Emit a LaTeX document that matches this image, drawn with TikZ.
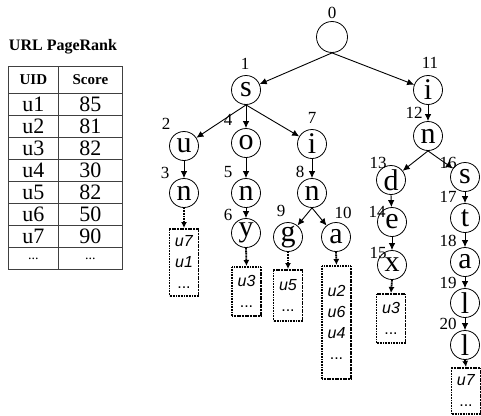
\documentclass[tikz,border=0pt]{standalone}
\usepackage{fontspec}
\setmainfont{Liberation Serif}
\newfontfamily\listfont{Liberation Sans}
\usetikzlibrary{arrows.meta}
\newcommand\tabledots{{\fontsize{14}{14}\selectfont...}}
\begin{document}
\begin{tikzpicture}[x=1pt,y=-1pt,
  letter/.style={circle,draw,line width=0.8pt,minimum size=29pt,inner sep=0pt,
    font=\fontsize{30}{30}\selectfont},
  idx/.style={inner sep=0pt,font=\fontsize{17}{17}\selectfont},
  edge/.style={-{Latex[length=7pt,width=6.5pt]},line width=0.9pt},
  dedge/.style={-{Latex[length=6pt,width=6pt]},line width=1.8pt,dash pattern=on 1.1pt off 0.5pt},
  ulist/.style={draw,line width=1.9pt,dash pattern=on 1.1pt off 0.5pt,minimum width=29pt,inner sep=0pt,
    anchor=north,align=center,font=\listfont\fontsize{16}{21}\selectfont},
  cell/.style={draw=black!75,line width=0.8pt,inner sep=0pt,anchor=north west,
    minimum height=22pt,font=\fontsize{22}{22}\selectfont},
  head/.style={cell,minimum height=27pt,font=\bfseries\fontsize{15}{15}\selectfont}
]
\useasboundingbox (0,0) rectangle (481,415);

% score table
\node[inner sep=0pt,font=\bfseries\fontsize{16}{16}\selectfont] (title) at (63,47) {URL PageRank};
\node[head,minimum width=50pt] (hU) at (8,66) {UID};
\node[head,minimum width=64pt] (hS) at (58,66) {Score};
\foreach \u/\s [count=\k from 0] in {u1/85,u2/81,u3/82,u4/30,u5/82,u6/50,u7/90,\tabledots/\tabledots}{
  \node[cell,minimum width=50pt] (cu\k) at (8,93+22*\k) {\u};
  \node[cell,minimum width=64pt] (cs\k) at (58,93+22*\k) {\s};
}

% trie nodes
\node[circle,draw,line width=0.8pt,minimum size=31pt,inner sep=0pt] (root) at (332,37) {};
\node[letter] (s)  at (246,90) {s};
\node[letter] (u)  at (184,146) {u};
\node[letter] (o)  at (246,143) {o};
\node[letter] (i)  at (312,144) {i};
\node[letter] (n1) at (184,193) {n};
\node[letter] (n2) at (246,193) {n};
\node[letter] (n3) at (312,193) {n};
\node[letter] (y)  at (246,233) {y};
\node[letter] (g)  at (288,237) {g};
\node[letter] (a)  at (336,237) {a};
\node[letter] (i2) at (428,90) {i};
\node[letter] (n4) at (428,136) {n};
\node[letter] (d)  at (391,180) {d};
\node[letter] (e)  at (392,222) {e};
\node[letter] (x)  at (392,265) {x};
\node[letter] (s2) at (465,177) {s};
\node[letter] (t)  at (465,218) {t};
\node[letter] (a2) at (465,262) {a};
\node[letter] (l1) at (465,303) {l};
\node[letter] (l2) at (465,345) {l};

% node numbers
\foreach \n/\px/\py in {0/332/13,1/245/64,2/166/124,3/165/173,4/228/120,5/228/172,
  6/228/215,7/312/118,8/300/172,9/281/211,10/343/213,11/430/63,12/414/113,
  13/378/163,14/377/212,15/378/253,16/448/163,17/448/197,18/448/241,19/448/283,20/448/324}
  \node[idx] (k\n) at (\px,\py) {\n};

% trie edges
\foreach \p/\c in {root/s,root/i2,s/u,s/o,s/i,u/n1,o/n2,i/n3,n2/y,n3/g,n3/a,
  i2/n4,n4/d,n4/s2,d/e,e/x,s2/t,t/a2,a2/l1,l1/l2}
  \draw[edge] (\p.south) -- (\c);

% URL lists
\node[ulist,minimum height=67pt]  (b1) at (184,228)   {\textit{u7}\\\textit{u1}\\...};
\node[ulist,minimum height=49pt]  (b2) at (246.5,266) {\textit{u3}\\...};
\node[ulist,minimum height=51pt]  (b3) at (288,269)   {\textit{u5}\\...};
\node[ulist,minimum height=113pt] (b4) at (336.5,265) {\textit{u2}\\\textit{u6}\\\textit{u4}\\...};
\node[ulist,minimum height=49pt]  (b5) at (391,293)   {\textit{u3}\\...};
\node[ulist,minimum height=46pt]  (b6) at (466,367)   {\textit{u7}\\...};

\foreach \p/\b in {n1/b1,y/b2,g/b3,a/b4,x/b5,l2/b6}
  \draw[dedge] (\p.south) -- (\b.north);
\end{tikzpicture}
\end{document}
